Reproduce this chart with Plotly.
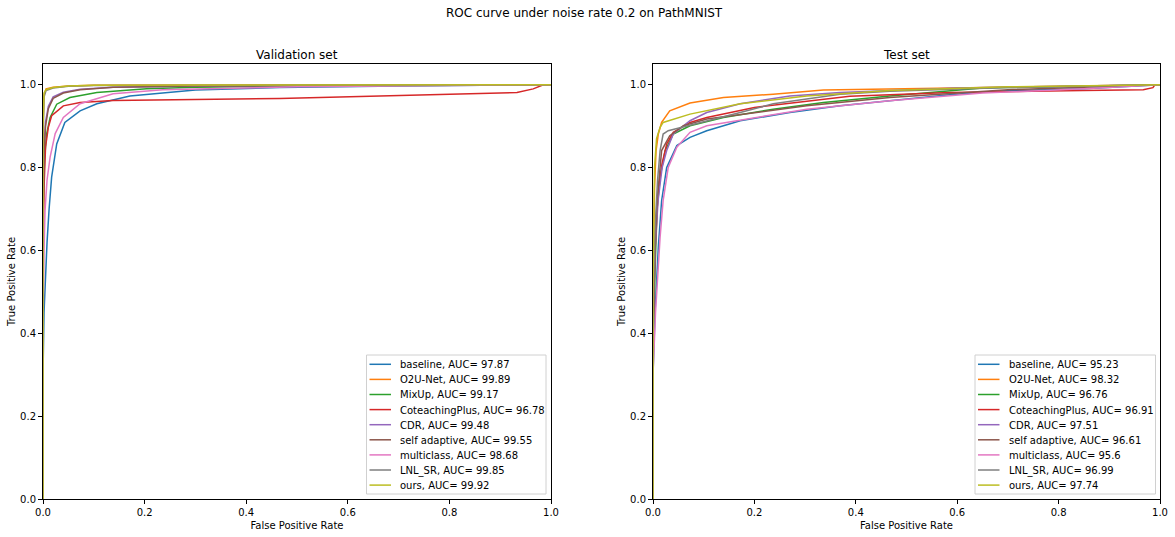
import plotly.graph_objects as go

methods = ["baseline", "O2U-Net", "MixUp", "CoteachingPlus", "CDR",
           "self adaptive", "multiclass", "LNL_SR", "ours"]
colors = ["#1f77b4", "#ff7f0e", "#2ca02c", "#d62728", "#9467bd",
          "#8c564b", "#e377c2", "#7f7f7f", "#bcbd22"]
val_auc = ["97.87", "99.89", "99.17", "96.78", "99.48", "99.55", "98.68", "99.85", "99.92"]
test_auc = ["95.23", "98.32", "96.76", "96.91", "97.51", "96.61", "95.6", "96.99", "97.74"]
tick_vals = [0, 0.2, 0.4, 0.6, 0.8, 1.0]
tick_text = ["0.0", "0.2", "0.4", "0.6", "0.8", "1.0"]

# Validation set ROC points
val_baseline_fpr = [0, 0, 0.002, 0.005, 0.008, 0.012, 0.017, 0.027, 0.043, 0.073, 0.106, 0.171, 0.30, 0.466, 0.7, 1.0]
val_baseline_tpr = [0, 0.3, 0.45, 0.55, 0.62, 0.70, 0.777, 0.857, 0.909, 0.937, 0.954, 0.973, 0.987, 0.993, 0.997, 1.0]
val_o2u_fpr = [0, 0, 0.002, 0.006, 0.02, 0.05, 0.1, 1]
val_o2u_tpr = [0, 0.9, 0.975, 0.99, 0.994, 0.997, 0.999, 1.0]
val_mixup_fpr = [0, 0, 0.003, 0.007, 0.014, 0.027, 0.053, 0.106, 0.204, 0.30, 0.5, 1]
val_mixup_tpr = [0, 0.7, 0.82, 0.88, 0.921, 0.953, 0.969, 0.981, 0.990, 0.994, 0.997, 1]
val_cot_fpr = [0, 0, 0.002, 0.005, 0.0105, 0.017, 0.04, 0.073, 0.138, 0.21, 0.466, 0.604, 0.866, 0.933, 0.965, 0.985, 1]
val_cot_tpr = [0, 0.5, 0.75, 0.85, 0.897, 0.925, 0.949, 0.957, 0.962, 0.963, 0.967, 0.971, 0.978, 0.981, 0.99, 1.0, 1.0]
val_cdr_fpr = [0, 0, 0.002, 0.005, 0.0105, 0.02, 0.04, 0.073, 0.138, 0.3, 1]
val_cdr_tpr = [0, 0.7, 0.85, 0.91, 0.948, 0.971, 0.982, 0.989, 0.994, 0.997, 1]
val_self_fpr = [0, 0, 0.002, 0.005, 0.0105, 0.02, 0.04, 0.073, 0.138, 0.3, 1]
val_self_tpr = [0, 0.65, 0.83, 0.90, 0.942, 0.967, 0.980, 0.988, 0.994, 0.997, 1]
val_multi_fpr = [0, 0, 0.002, 0.004, 0.008, 0.014, 0.024, 0.04, 0.073, 0.138, 0.236, 0.5, 1]
val_multi_tpr = [0, 0.4, 0.6, 0.696, 0.77, 0.825, 0.882, 0.921, 0.954, 0.978, 0.988, 0.995, 1]
val_lnl_fpr = [0, 0, 0.002, 0.006, 0.02, 0.05, 0.1, 1]
val_lnl_tpr = [0, 0.85, 0.97, 0.986, 0.992, 0.996, 0.998, 1]
val_ours_fpr = [0, 0, 0.002, 0.006, 0.02, 0.05, 0.1, 1]
val_ours_tpr = [0, 0.9, 0.98, 0.988, 0.993, 0.997, 0.999, 1]

# Test set ROC points
test_baseline_fpr = [0, 0, 0.004, 0.0105, 0.017, 0.027, 0.047, 0.073, 0.106, 0.172, 0.27, 0.369, 0.467, 0.58, 0.68, 0.85, 1]
test_baseline_tpr = [0, 0.3, 0.45, 0.608, 0.72, 0.80, 0.853, 0.873, 0.889, 0.913, 0.933, 0.949, 0.961, 0.975, 0.985, 0.99, 1]
test_o2u_fpr = [0, 0, 0.003, 0.006, 0.0105, 0.017, 0.033, 0.073, 0.139, 0.237, 0.336, 0.6, 1]
test_o2u_tpr = [0, 0.5, 0.75, 0.84, 0.881, 0.909, 0.937, 0.956, 0.969, 0.977, 0.987, 0.992, 1]
test_mixup_fpr = [0, 0, 0.004, 0.008, 0.014, 0.024, 0.04, 0.073, 0.139, 0.237, 0.336, 0.467, 0.65, 1]
test_mixup_tpr = [0, 0.35, 0.55, 0.7, 0.777, 0.841, 0.881, 0.901, 0.921, 0.941, 0.957, 0.973, 0.992, 1]
test_cot_fpr = [0, 0, 0.004, 0.01, 0.018, 0.027, 0.04, 0.073, 0.106, 0.2, 0.388, 0.586, 0.848, 0.967, 0.986, 0.99, 1]
test_cot_tpr = [0, 0.4, 0.6, 0.74, 0.81, 0.857, 0.885, 0.909, 0.921, 0.945, 0.972, 0.981, 0.986, 0.988, 0.993, 1.0, 1.0]
test_cdr_fpr = [0, 0, 0.004, 0.01, 0.018, 0.027, 0.04, 0.073, 0.106, 0.172, 0.27, 0.369, 0.6, 1]
test_cdr_tpr = [0, 0.4, 0.6, 0.72, 0.8, 0.841, 0.881, 0.913, 0.933, 0.954, 0.973, 0.981, 0.992, 1]
test_self_fpr = [0, 0, 0.004, 0.008, 0.017, 0.033, 0.06, 0.106, 0.204, 0.303, 0.467, 0.7, 1]
test_self_tpr = [0, 0.4, 0.6, 0.72, 0.841, 0.877, 0.901, 0.917, 0.933, 0.949, 0.969, 0.988, 1]
test_multi_fpr = [0, 0, 0.005, 0.01, 0.014, 0.02, 0.03, 0.047, 0.073, 0.106, 0.204, 0.303, 0.467, 0.65, 0.85, 1]
test_multi_tpr = [0, 0.3, 0.45, 0.55, 0.632, 0.72, 0.80, 0.849, 0.885, 0.901, 0.921, 0.941, 0.961, 0.98, 0.99, 1]
test_lnl_fpr = [0, 0, 0.004, 0.009, 0.014, 0.02, 0.03, 0.053, 0.106, 0.172, 0.237, 0.369, 0.467, 0.7, 1]
test_lnl_tpr = [0, 0.45, 0.65, 0.77, 0.841, 0.881, 0.889, 0.896, 0.913, 0.933, 0.954, 0.977, 0.984, 0.993, 1]
test_ours_fpr = [0, 0, 0.003, 0.007, 0.014, 0.02, 0.073, 0.172, 0.303, 0.467, 0.7, 1]
test_ours_tpr = [0, 0.5, 0.8, 0.87, 0.897, 0.909, 0.929, 0.954, 0.973, 0.986, 0.995, 1]

val_curves = [(val_baseline_fpr, val_baseline_tpr), (val_o2u_fpr, val_o2u_tpr),
              (val_mixup_fpr, val_mixup_tpr), (val_cot_fpr, val_cot_tpr),
              (val_cdr_fpr, val_cdr_tpr), (val_self_fpr, val_self_tpr),
              (val_multi_fpr, val_multi_tpr), (val_lnl_fpr, val_lnl_tpr),
              (val_ours_fpr, val_ours_tpr)]
test_curves = [(test_baseline_fpr, test_baseline_tpr), (test_o2u_fpr, test_o2u_tpr),
               (test_mixup_fpr, test_mixup_tpr), (test_cot_fpr, test_cot_tpr),
               (test_cdr_fpr, test_cdr_tpr), (test_self_fpr, test_self_tpr),
               (test_multi_fpr, test_multi_tpr), (test_lnl_fpr, test_lnl_tpr),
               (test_ours_fpr, test_ours_tpr)]

W, H = 1175, 537
FONT = "DejaVu Sans"

fig = go.Figure()
for i, (m, (fx, ty)) in enumerate(zip(methods, val_curves)):
    fig.add_trace(go.Scatter(x=fx, y=ty, mode="lines", name=f"{m}, AUC= {val_auc[i]}",
                             line=dict(color=colors[i], width=1.5), showlegend=False,
                             xaxis="x", yaxis="y"))
for i, (m, (fx, ty)) in enumerate(zip(methods, test_curves)):
    fig.add_trace(go.Scatter(x=fx, y=ty, mode="lines", name=f"{m}, AUC= {test_auc[i]}",
                             line=dict(color=colors[i], width=1.5), showlegend=False,
                             xaxis="x2", yaxis="y2"))


def px(x):
    return x / W


def py(y):
    return 1 - y / H


ydom = [py(499), py(64)]
axis_common = dict(showgrid=False, zeroline=False, showline=True, linecolor="black",
                   linewidth=1, mirror=True, ticks="outside", ticklen=4, tickcolor="black",
                   automargin=False, tickvals=tick_vals, ticktext=tick_text,
                   tickfont=dict(family=FONT, size=10, color="black"))

shapes = []
annotations = [
    dict(text="ROC curve under noise rate 0.2 on PathMNIST", x=px(584), y=py(13),
         xref="paper", yref="paper", xanchor="center", yanchor="middle",
         showarrow=False, font=dict(family=FONT, size=12)),
    dict(text="Validation set", x=px(297), y=py(55), xref="paper", yref="paper",
         xanchor="center", yanchor="middle", showarrow=False, font=dict(family=FONT, size=12)),
    dict(text="Test set", x=px(906), y=py(55), xref="paper", yref="paper",
         xanchor="center", yanchor="middle", showarrow=False, font=dict(family=FONT, size=12)),
]
# matplotlib-style compact legends
for box_l, box_r, auc in [(366.5, 546, val_auc), (975, 1155.5, test_auc)]:
    shapes.append(dict(type="rect", xref="paper", yref="paper",
                       x0=px(box_l), x1=px(box_r), y0=py(494), y1=py(355),
                       line=dict(color="#d0d0d0", width=1), fillcolor="rgba(255,255,255,0.8)",
                       layer="above"))
    for i, m in enumerate(methods):
        yc = 364.3 + i * 15.1
        shapes.append(dict(type="line", xref="paper", yref="paper",
                           x0=px(box_l + 3), x1=px(box_l + 24.5), y0=py(yc), y1=py(yc),
                           line=dict(color=colors[i], width=1.5), layer="above"))
        annotations.append(dict(text=f"{m}, AUC= {auc[i]}", x=px(box_l + 31.5), y=py(yc + 0.5),
                                xref="paper", yref="paper", xanchor="left", yanchor="middle",
                                showarrow=False, font=dict(family=FONT, size=10, color="black")))

fig.update_layout(
    width=W, height=H, margin=dict(l=0, r=0, t=0, b=0, autoexpand=False),
    paper_bgcolor="white", plot_bgcolor="white",
    font=dict(family=FONT, size=10, color="black"),
    xaxis=dict(domain=[px(43), px(551)], range=[0, 1], anchor="y",
               title=dict(text="False Positive Rate", standoff=4, font=dict(family=FONT, size=10)),
               **axis_common),
    yaxis=dict(domain=ydom, range=[0, 1.05], anchor="x",
               title=dict(text="True Positive Rate", standoff=2, font=dict(family=FONT, size=10)),
               **axis_common),
    xaxis2=dict(domain=[px(653), px(1160)], range=[0, 1], anchor="y2",
                title=dict(text="False Positive Rate", standoff=4, font=dict(family=FONT, size=10)),
                **axis_common),
    yaxis2=dict(domain=ydom, range=[0, 1.05], anchor="x2",
                title=dict(text="True Positive Rate", standoff=2, font=dict(family=FONT, size=10)),
                **axis_common),
    showlegend=False,
    shapes=shapes,
    annotations=annotations,
)

fig.write_html("out.html", config={"displayModeBar": False},
               post_script="document.body.style.margin='0px';document.body.style.padding='0px';"
                           "document.body.style.overflow='hidden';")
